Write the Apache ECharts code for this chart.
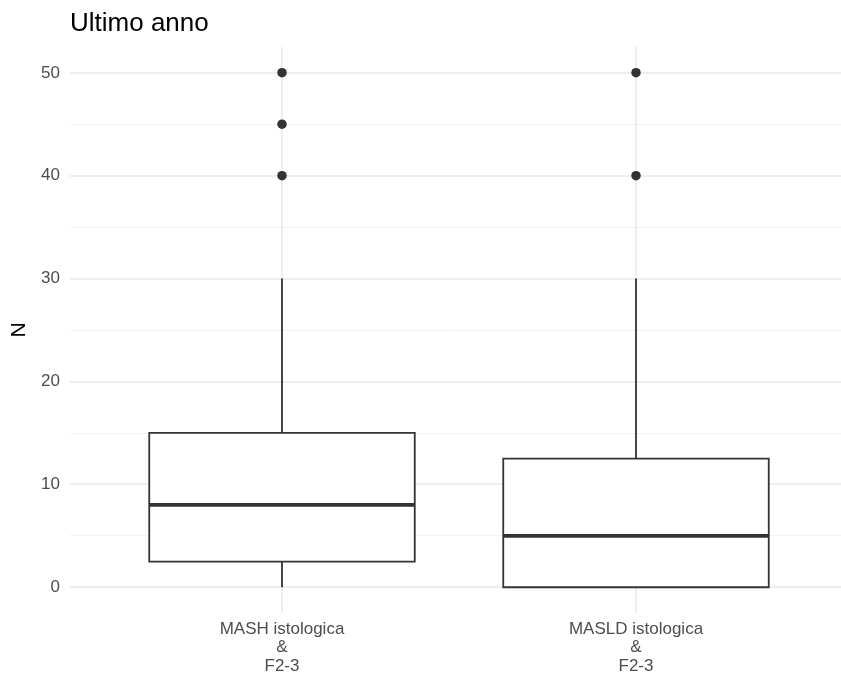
<!DOCTYPE html>
<html>
<head>
<meta charset="utf-8">
<script src="https://cdn.jsdelivr.net/npm/echarts@6/dist/echarts.min.js"></script>
<style>html,body{margin:0;background:#fff}#main{width:841px;height:677px}</style>
</head>
<body>
<div id="main"></div>
<script>
const categories = ['MASH istologica\n&\nF2-3', 'MASLD istologica\n&\nF2-3']
// min, Q1, median, Q3, max (whisker ends)
const boxStats = [
    [0, 2.5, 8, 15, 30],
    [0, 0, 5, 12.5, 30]
]
// [category index, value]
const outliers = [
    [0, 40], [0, 45], [0, 50],
    [1, 40], [1, 50]
]
const yTicks = [0, 10, 20, 30, 40, 50]

const ink = '#333333'
const grid = '#e9e9e9'
const font = 'Liberation Sans'
const boxWidth = 0.75

function renderBox(params, api) {
    const i = api.value(0)
    const lo = api.coord([i, api.value(1)])
    const q1 = api.coord([i, api.value(2)])
    const med = api.coord([i, api.value(3)])
    const q3 = api.coord([i, api.value(4)])
    const hi = api.coord([i, api.value(5)])
    const half = api.size([1, 0])[0] * boxWidth / 2
    const x = med[0]
    const st = {stroke: ink, lineWidth: 1.8}
    return {
        type: 'group',
        children: [
            {type: 'line', shape: {x1: x, y1: q3[1], x2: x, y2: hi[1]}, style: st},
            {type: 'line', shape: {x1: x, y1: lo[1], x2: x, y2: q1[1]}, style: st},
            {type: 'rect', shape: {x: x - half, y: q3[1], width: half * 2, height: q1[1] - q3[1]},
                style: {fill: '#fff', stroke: ink, lineWidth: 1.8}},
            {type: 'line', shape: {x1: x - half, y1: med[1], x2: x + half, y2: med[1]},
                style: {stroke: ink, lineWidth: 3.8}}
        ]
    }
}

function renderVGrid(params, api) {
    const i = api.value(0)
    const top = api.coord([i, 52.5])
    const bottom = api.coord([i, -2.5])
    return {type: 'line', shape: {x1: top[0], y1: top[1], x2: bottom[0], y2: bottom[1]},
        style: {stroke: grid, lineWidth: 1.5}}
}

const chart = echarts.init(document.getElementById('main'))
chart.setOption({
    backgroundColor: '#fff',
    animation: false,
    textStyle: {fontFamily: font},
    title: {
        text: 'Ultimo anno', left: 65, top: 6,
        textStyle: {fontSize: 26, fontWeight: 'normal', color: '#000', fontFamily: font}
    },
    grid: [
        {left: 70, right: 0, top: 73, bottom: 90},
        {left: 105, width: 708, top: 47, bottom: 64}
    ],
    xAxis: [
        {type: 'value', gridIndex: 0, show: false, min: 0, max: 1},
        {
            type: 'category', gridIndex: 1, data: categories,
            axisLine: {show: false}, axisTick: {show: false}, splitLine: {show: false},
            axisLabel: {fontSize: 17, color: '#4d4d4d', lineHeight: 18.5, margin: 7, fontFamily: font}
        }
    ],
    yAxis: [
        {
            type: 'value', gridIndex: 0,
            min: yTicks[0], max: yTicks[yTicks.length - 1], interval: yTicks[1] - yTicks[0],
            axisLine: {show: false}, axisTick: {show: false},
            axisLabel: {fontSize: 17, color: '#4d4d4d', margin: 10, fontFamily: font},
            splitLine: {lineStyle: {color: grid, width: 1.5}},
            minorTick: {show: false, splitNumber: 2},
            minorSplitLine: {show: true, lineStyle: {color: '#f2f2f2', width: 1}},
            name: 'N', nameLocation: 'middle', nameGap: 38, nameRotate: 90,
            nameTextStyle: {fontSize: 21, color: '#000', fontFamily: font}
        },
        {type: 'value', gridIndex: 1, min: -2.5, max: 52.5, show: false, splitLine: {show: false}}
    ],
    series: [
        {
            type: 'custom', xAxisIndex: 1, yAxisIndex: 1, z: 1, silent: true,
            data: categories.map((c, i) => [i]),
            renderItem: renderVGrid
        },
        {
            type: 'custom', xAxisIndex: 1, yAxisIndex: 1, z: 2,
            data: boxStats.map((s, i) => [i].concat(s)),
            encode: {x: 0, y: [1, 2, 3, 4, 5]},
            renderItem: renderBox
        },
        {
            type: 'scatter', xAxisIndex: 1, yAxisIndex: 1, z: 3,
            data: outliers, symbolSize: 9.5,
            itemStyle: {color: ink, opacity: 1}
        }
    ]
})
</script>
</body>
</html>
